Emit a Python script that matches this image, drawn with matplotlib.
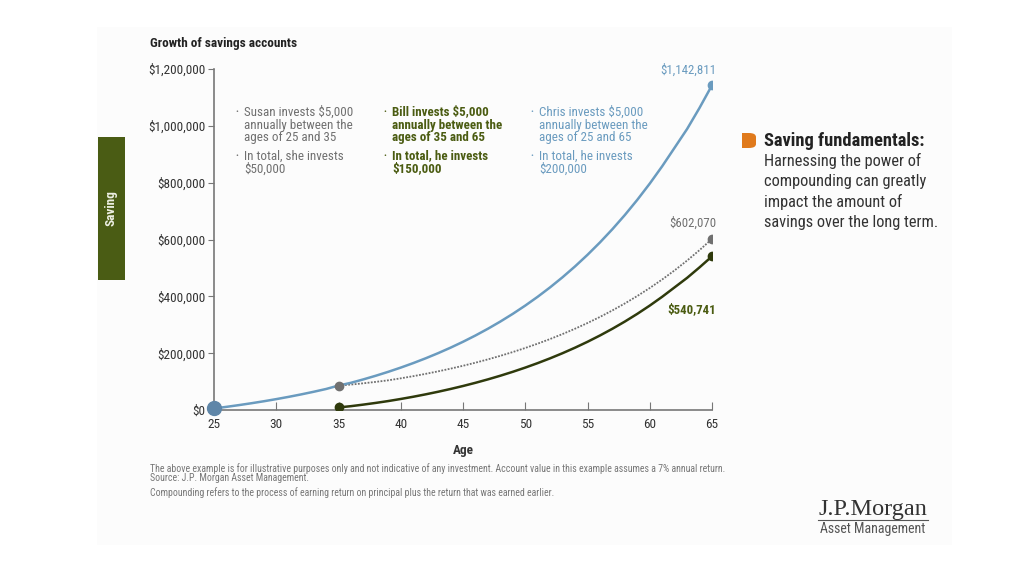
import matplotlib.pyplot as plt
from matplotlib.patches import Rectangle, FancyBboxPatch
from matplotlib.ticker import FuncFormatter

FONT = ['Roboto Condensed', 'Roboto', 'DejaVu Sans']
plt.rcParams['font.family'] = FONT

# values (account value in $ by age)
chris_age = list(range(25, 66))
chris_val = [5350, 11075, 17200, 23754, 30767, 38271, 46300, 54891, 64083, 73919,
             86000, 95715, 107760, 120654, 134447, 149211, 165010, 181911, 199993, 219339,
             240043, 262194, 285903, 311266, 338401, 367442, 398506, 431756, 467329, 505388,
             546121, 589693, 636326, 686218, 739605, 796722, 857842, 923246, 988910, 1063320,
             1142811]
susan_age = list(range(35, 66))
susan_val = [86000, 89500, 94000, 99000, 104500, 111500, 119000, 127200, 136000, 145500,
             155600, 166490, 178150, 190620, 203960, 218240, 233510, 249860, 267350, 286060,
             306090, 327510, 350440, 374970, 401220, 429300, 459350, 491510, 525910, 562720,
             602070]
bill_age = list(range(35, 66))
bill_val = [9000, 13500, 19000, 25000, 31500, 38800, 46600, 55100, 64200, 74000,
            84443, 95704, 107753, 120646, 134441, 149202, 164996, 181896, 199979, 219328,
            240031, 262183, 285886, 311248, 338385, 367422, 398492, 431736, 465000, 502000,
            540741]

x_ticks = [25, 30, 35, 40, 45, 50, 55, 60, 65]
y_ticks = [0, 200000, 400000, 600000, 800000, 1000000, 1200000]

BLUE = '#6a9bbf'
GREY = '#707070'
OLIVE = '#2f3a0c'
OLIVE_TXT = '#4b5c12'

fig = plt.figure(figsize=(10.24, 5.76), dpi=100)
fig.patch.set_facecolor('white')
fig.patches.append(Rectangle((97 / 1024, 1 - 545 / 576), 855 / 1024, 518 / 576,
                             transform=fig.transFigure, facecolor='#fcfcfc',
                             edgecolor='none', zorder=-10))

ax = fig.add_axes([214 / 1024, 1 - 410 / 576, 498 / 1024, 341 / 576])
ax.set_facecolor('none')

ax.plot(susan_age, susan_val, color=GREY, lw=1.3, ls=(0, (1, 0.8)), zorder=3)
ax.plot(bill_age, bill_val, color=OLIVE, lw=1.8, zorder=3)
ax.plot(chris_age, chris_val, color=BLUE, lw=1.8, zorder=4)

ax.plot([susan_age[0], susan_age[-1]], [susan_val[0], susan_val[-1]], 'o', color=GREY, ms=6, zorder=5)
ax.plot([bill_age[0], bill_age[-1]], [bill_val[0], bill_val[-1]], 'o', color=OLIVE, ms=6, zorder=5)
ax.plot([chris_age[-1]], [chris_val[-1]], 'o', color=BLUE, ms=6, zorder=5)
ax.plot([chris_age[0]], [chris_val[0]], 'o', color='#5f86a8', ms=10, zorder=6, clip_on=False)

ax.set_xlim(25, 65)
ax.set_ylim(0, 1200000)
ax.set_xticks(x_ticks)
ax.set_yticks(y_ticks)
ax.yaxis.set_major_formatter(FuncFormatter(lambda v, p: '${:,.0f}'.format(v)))
for s in ['top', 'right']:
    ax.spines[s].set_visible(False)
for s in ['left', 'bottom']:
    ax.spines[s].set_color('#777777')
    ax.spines[s].set_linewidth(1.2)
ax.tick_params(axis='y', direction='out', length=4, color='#777777', labelsize=9.5,
               labelcolor='#333333', pad=2)
ax.tick_params(axis='x', direction='in', length=6, color='#777777', labelsize=9.5,
               labelcolor='#333333', pad=6)
ax.set_xlabel('Age', fontsize=9.5, color='#333333', fontweight='bold', labelpad=9)

# end labels
ax.annotate('${:,}'.format(chris_val[-1]), (65, chris_val[-1]), xytext=(3, 11),
            textcoords='offset points', ha='right', va='center', color=BLUE, fontsize=9.3)
ax.annotate('${:,}'.format(susan_val[-1]), (65, susan_val[-1]), xytext=(3, 11),
            textcoords='offset points', ha='right', va='center', color=GREY, fontsize=9.3)
ax.annotate('${:,}'.format(bill_val[-1]), (65, bill_val[-1]), xytext=(3, -38),
            textcoords='offset points', ha='right', va='center', color=OLIVE_TXT, fontsize=9.3,
            fontweight='bold')


# investor notes
def note(xp, yp, lines, color, weight='normal'):
    fig.text(xp / 1024, 1 - yp / 576, '•', color=color, fontsize=6, va='center', ha='left')
    for i, ln in enumerate(lines):
        fig.text((xp + 9) / 1024, 1 - (yp + i * 13) / 576, ln, color=color, fontsize=9.4,
                 va='center', ha='left', fontweight=weight)


note(235, 112, ['Susan invests $5,000', 'annually between the', 'ages of 25 and 35'], GREY)
note(235, 156, ['In total, she invests', '$50,000'], GREY)
note(383, 112, ['Bill invests $5,000', 'annually between the', 'ages of 35 and 65'], OLIVE_TXT, 'bold')
note(383, 156, ['In total, he invests', '$150,000'], OLIVE_TXT, 'bold')
note(530, 112, ['Chris invests $5,000', 'annually between the', 'ages of 25 and 65'], BLUE)
note(530, 156, ['In total, he invests', '$200,000'], BLUE)

fig.text(150 / 1024, 1 - 43 / 576, 'Growth of savings accounts', fontsize=9.5,
         fontweight='bold', color='#222222', va='center')

# side tab
fig.patches.append(Rectangle((98 / 1024, 1 - 280 / 576), 27 / 1024, 143 / 576,
                             transform=fig.transFigure, facecolor='#4a5c14',
                             edgecolor='none'))
fig.text(111.5 / 1024, 1 - 208 / 576, 'Saving', rotation=90, color='#eef0e4', fontsize=9.5,
         fontweight='bold', ha='center', va='center')

# right callout
fig.patches.append(FancyBboxPatch((742 / 1024, 1 - 148 / 576), 14 / 1024, 15 / 576,
                                  boxstyle='round,pad=0,rounding_size=0.007',
                                  transform=fig.transFigure, facecolor='#e07a1c',
                                  edgecolor='none'))
fig.patches.append(Rectangle((742 / 1024, 1 - 148 / 576), 7 / 1024, 15 / 576,
                             transform=fig.transFigure, facecolor='#e07a1c', edgecolor='none'))
fig.text(764 / 1024, 1 - 141 / 576, 'Saving fundamentals:', fontsize=13.3, fontweight='bold',
         color='#222222', va='center')
for i, ln in enumerate(['Harnessing the power of', 'compounding can greatly',
                        'impact the amount of', 'savings over the long term.']):
    fig.text(764 / 1024, 1 - (161 + i * 20.5) / 576, ln, fontsize=11.8, color='#333333',
             va='center')

# footnotes
fig.text(150 / 1024, 1 - 469 / 576,
         'The above example is for illustrative purposes only and not indicative of any investment. '
         'Account value in this example assumes a 7% annual return.',
         fontsize=7.1, color='#777777', va='center')
fig.text(150 / 1024, 1 - 478 / 576, 'Source: J.P. Morgan Asset Management.',
         fontsize=7.1, color='#777777', va='center')
fig.text(150 / 1024, 1 - 493 / 576,
         'Compounding refers to the process of earning return on principal plus the return that was earned earlier.',
         fontsize=7.1, color='#777777', va='center')

# logo
fig.text(873 / 1024, 1 - 509 / 576, 'J.P.Morgan', family=['Liberation Serif', 'DejaVu Serif'],
         fontsize=17.5, color='#333333', ha='center', va='center')
fig.add_artist(plt.Line2D([818 / 1024, 928 / 1024], [1 - 520 / 576, 1 - 520 / 576],
                          color='#555555', lw=0.8, transform=fig.transFigure))
fig.text(873 / 1024, 1 - 529 / 576, 'Asset Management', fontsize=10, color='#555555',
         ha='center', va='center')

fig.savefig('out.png', dpi=100)
